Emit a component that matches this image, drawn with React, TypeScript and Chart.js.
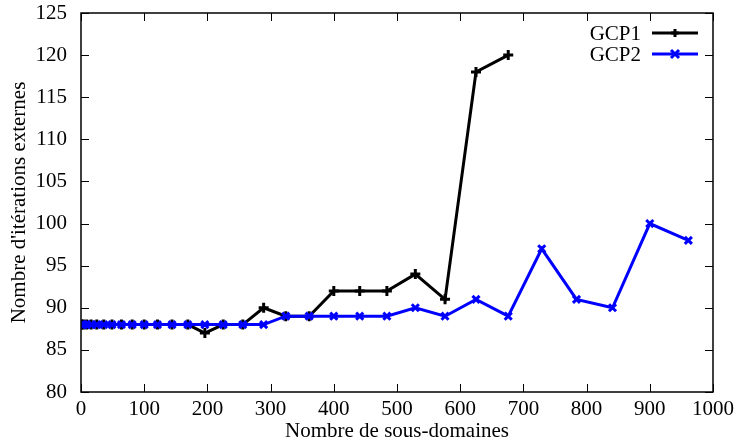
import React, { useEffect, useRef } from "react";
import { Chart, registerables } from "chart.js";

Chart.register(...registerables);

const gcp1X = [1, 4, 9, 16, 25, 36, 49, 64, 81, 100, 121, 144, 169, 196, 225, 256, 289, 324, 361, 400, 441, 484, 529, 576, 625, 676];
const gcp1Y = [88, 88, 88, 88, 88, 88, 88, 88, 88, 88, 88, 88, 88, 87, 88, 88, 90, 89, 89, 92, 92, 92, 94, 91, 118, 120];
const gcp2X = [1, 4, 9, 16, 25, 36, 49, 64, 81, 100, 121, 144, 169, 196, 225, 256, 289, 324, 361, 400, 441, 484, 529, 576, 625, 676, 729, 784, 841, 900, 961];
const gcp2Y = [88, 88, 88, 88, 88, 88, 88, 88, 88, 88, 88, 88, 88, 88, 88, 88, 88, 89, 89, 89, 89, 89, 90, 89, 91, 89, 97, 91, 90, 100, 98];
const seriesNames = ["GCP1", "GCP2"];
const seriesColors = ["#000000", "#0000ff"];
const seriesMarkers = ["cross", "crossRot"];

const FONT = "'Liberation Serif', 'DejaVu Serif', serif";
const FS = 21;

const framePlugin = {
  id: "frame",
  afterDraw(chart: any) {
    const { ctx, chartArea: a, scales } = chart;
    ctx.save();
    ctx.strokeStyle = "#000";
    ctx.lineWidth = 1.5;
    ctx.strokeRect(a.left, a.top, a.right - a.left, a.bottom - a.top);
    ctx.lineWidth = 1;
    const tl = 8;
    ctx.beginPath();
    scales.x.ticks.forEach((t: any) => {
      const px = Math.round(scales.x.getPixelForValue(t.value)) + 0.5;
      ctx.moveTo(px, a.bottom);
      ctx.lineTo(px, a.bottom - tl);
      ctx.moveTo(px, a.top);
      ctx.lineTo(px, a.top + tl);
    });
    scales.y.ticks.forEach((t: any) => {
      const py = Math.round(scales.y.getPixelForValue(t.value)) + 0.5;
      ctx.moveTo(a.left, py);
      ctx.lineTo(a.left + tl, py);
      ctx.moveTo(a.right, py);
      ctx.lineTo(a.right - tl, py);
    });
    ctx.stroke();

    // legend
    ctx.font = `${FS}px ${FONT}`;
    ctx.textAlign = "right";
    ctx.textBaseline = "middle";
    const lx0 = a.right - 61;
    const lx1 = a.right - 15;
    seriesNames.forEach((name, i) => {
      const y = a.top + 20 + i * 21;
      ctx.fillStyle = "#000";
      ctx.fillText(name, lx0 - 11, y + 1);
      ctx.strokeStyle = seriesColors[i];
      ctx.lineWidth = 3;
      ctx.beginPath();
      ctx.moveTo(lx0, y);
      ctx.lineTo(lx1, y);
      ctx.stroke();
      const mx = (lx0 + lx1) / 2;
      const r = 4;
      ctx.beginPath();
      if (i === 0) {
        ctx.moveTo(mx - r, y);
        ctx.lineTo(mx + r, y);
        ctx.moveTo(mx, y - r);
        ctx.lineTo(mx, y + r);
      } else {
        ctx.moveTo(mx - r, y - r);
        ctx.lineTo(mx + r, y + r);
        ctx.moveTo(mx - r, y + r);
        ctx.lineTo(mx + r, y - r);
      }
      ctx.stroke();
    });
    ctx.restore();
  },
};

export default function App() {
  const ref = useRef<HTMLCanvasElement>(null);
  useEffect(() => {
    if (!ref.current) return;
    const mk = (xs: number[], ys: number[], i: number) => ({
      label: seriesNames[i],
      data: xs.map((x, k) => ({ x, y: ys[k] })),
      borderColor: seriesColors[i],
      backgroundColor: seriesColors[i],
      borderWidth: 3,
      pointStyle: seriesMarkers[i] as any,
      pointRadius: 5,
      pointBorderWidth: 3,
      pointBorderColor: seriesColors[i],
      tension: 0,
      order: i === 0 ? 1 : 0,
    });
    const chart = new Chart(ref.current, {
      type: "line",
      data: {
        datasets: [mk(gcp1X, gcp1Y, 0), mk(gcp2X, gcp2Y, 1)],
      },
      options: {
        animation: false,
        responsive: false,
        maintainAspectRatio: false,
        layout: { padding: { top: 13, right: 26, left: 0, bottom: 0 } },
        plugins: { legend: { display: false }, tooltip: { enabled: false } },
        scales: {
          x: {
            type: "linear",
            min: 0,
            max: 1000,
            grid: { display: false },
            border: { display: false },
            ticks: {
              stepSize: 100,
              color: "#000",
              font: { family: FONT, size: FS },
              maxRotation: 0,
              padding: -3,
              callback: (v: any) => String(v),
            },
            title: { display: true, text: "Nombre de sous-domaines", color: "#000", font: { family: FONT, size: FS }, padding: { top: 0, bottom: 2 } },
            afterFit: (s: any) => { s.height = 54; s.paddingLeft = 0; s.paddingRight = 0; },
          },
          y: {
            type: "linear",
            min: 80,
            max: 125,
            grid: { display: false },
            border: { display: false },
            ticks: { stepSize: 5, color: "#000", font: { family: FONT, size: FS }, padding: 6, callback: (v: any) => String(v) },
            title: { display: true, text: "Nombre d'itérations externes", color: "#000", font: { family: FONT, size: FS }, padding: { top: 7, bottom: 0 } },
            afterFit: (s: any) => { s.width = 81; s.paddingTop = 0; s.paddingBottom = 0; },
          },
        },
      },
      plugins: [framePlugin],
    });
    return () => chart.destroy();
  }, []);
  return (
    <div style={{ position: "absolute", left: 0, top: 0, width: 739, height: 446, background: "#fff" }}>
      <canvas ref={ref} width={739} height={446} style={{ width: 739, height: 446 }} />
    </div>
  );
}
